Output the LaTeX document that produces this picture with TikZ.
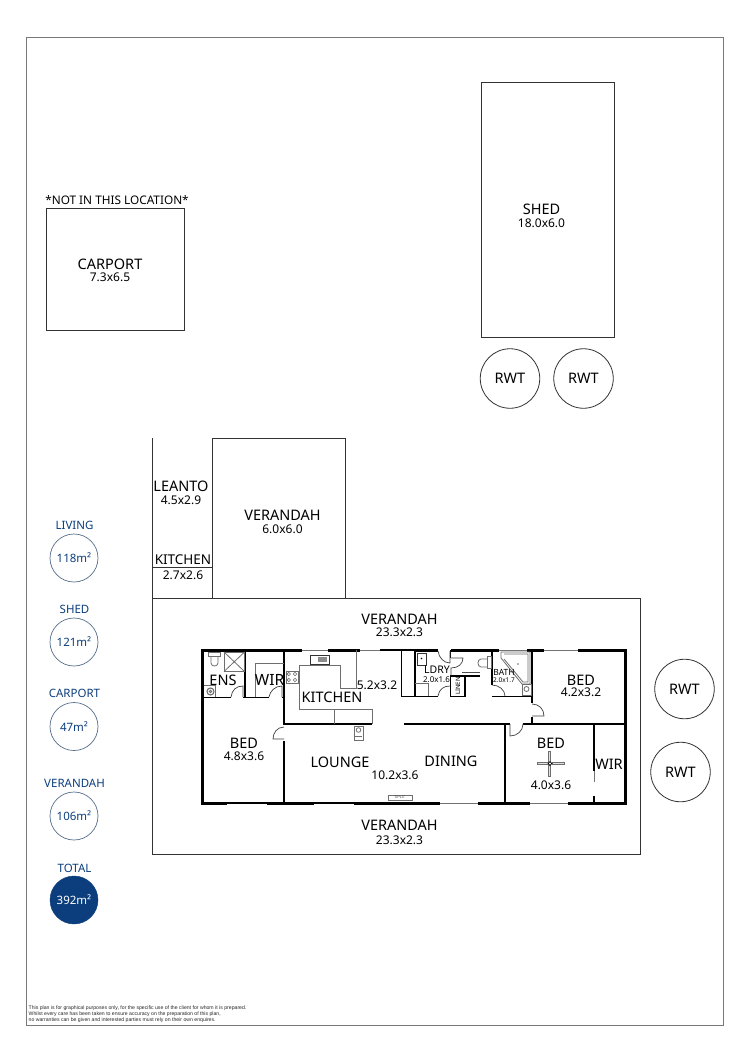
\documentclass[tikz,border=0pt]{standalone}
\usepackage{fontspec}
\setmainfont{Noto Sans}
\setsansfont{Liberation Sans}
\definecolor{navy}{RGB}{12,62,125}
\definecolor{ringc}{RGB}{85,110,140}
\definecolor{fix}{RGB}{110,110,110}
\definecolor{page}{RGB}{120,120,120}
\tikzset{
 x=1pt,y=-1pt,
 outline/.style={draw=black!80,line width=0.8pt},
 wall/.style={draw=black,line width=3pt},
 iwall/.style={draw=black,line width=1.5pt},
 win/.style={draw=black!55,line width=0.9pt},
 fixt/.style={draw=fix,line width=0.8pt},
 doorarc/.style={draw=black!75,line width=0.7pt},
 rname/.style={font=\fontsize{14.5}{15}\selectfont,inner sep=0pt},
 rsize/.style={font=\fontsize{12}{13}\selectfont,inner sep=0pt},
 smname/.style={font=\fontsize{10.5}{11}\selectfont,inner sep=0pt},
 smsize/.style={font=\fontsize{8}{8}\selectfont,inner sep=0pt},
 areatitle/.style={font=\fontsize{11.5}{12}\selectfont,text=navy,inner sep=0pt},
 areaval/.style={circle,draw=ringc,line width=0.7pt,minimum size=48pt,inner sep=0pt,font=\fontsize{11.5}{12}\selectfont,text=navy},
 areatot/.style={circle,fill=navy,draw=navy,minimum size=48pt,inner sep=0pt,font=\fontsize{11.5}{12}\selectfont,text=white},
 tankc/.style={circle,outline,minimum size=59.5pt,inner sep=0pt,font=\fontsize{14.5}{15}\selectfont}
}
\begin{document}
\begin{tikzpicture}
\useasboundingbox (0,0) rectangle (750,1061);
\fill[white] (0,0) rectangle (750,1061);
% page frame
\draw[draw=page,line width=1pt] (26,37) rectangle (723,1025);
% outbuildings
\draw[outline] (481,82) rectangle (614,337);
\draw[outline] (46,208) rectangle (184,330);
\draw[outline] (152,438) -- (152,598);
\draw[outline] (152,567) -- (212,567);
\draw[outline] (212,598) -- (212,438) -- (345,438) -- (345,598);
\draw[outline] (152,598) rectangle (640,854);
% tanks
\node[tankc] (t1) at (510,378.5) {RWT};
\node[tankc] (t2) at (583.5,378.5) {RWT};
\node[tankc] (t3) at (684.5,689) {RWT};
\node[tankc] (t4) at (680.5,772) {RWT};
% house outer walls
\draw[wall] (302,650) -- (202,650) -- (202,803) -- (227,803);
\draw[win] (302,650) -- (328,650);
\draw[wall] (328,650) -- (360,650);
\draw[win] (360,650) -- (380,650);
\draw[iwall] (380,650) -- (415,650);
\draw[iwall] (227,803) -- (267,803);
\draw[wall] (267,803) -- (314,803);
\draw[iwall] (314,803) -- (354,803);
\draw[wall] (354,803) -- (440,803);
\draw[win] (440,803) -- (478,803);
\draw[wall] (478,803) -- (530,803);
\draw[win] (530,803) -- (568,803);
\draw[wall] (568,803) -- (625,803) -- (625,650) -- (578,650);
\draw[win] (578,650) -- (544,650);
\draw[wall] (544,650) -- (527,650);
\draw[win] (527,650) -- (499,650);
\draw[wall] (499,650) -- (451,650);
\draw[wall] (438,650) -- (415,650);
% inner walls
\draw[iwall] (245,650) -- (245,697.5);
\draw[iwall] (202,697.5) -- (231,697.5);
\draw[iwall] (243,697.5) -- (269,697.5);
\draw[iwall] (282,697.5) -- (284,697.5);
\draw[iwall] (284,650) -- (284,724) -- (372,724);
\draw[iwall] (284,741) -- (284,803);
\draw[iwall] (404,724) -- (505,724) -- (505,803);
\draw[iwall] (510,724) -- (505,724);
\draw[iwall] (523,724) -- (625,724);
\draw[iwall] (532,650) -- (532,703);
\draw[iwall] (532,717) -- (532,724);
\draw[iwall] (594,724) -- (594,771);
\draw[win] (594,771) -- (594,782);
\draw[iwall] (594,796) -- (594,803);
\draw[iwall] (492,650) -- (492,685);
\draw[iwall] (492,696.5) -- (532,696.5);
\draw[iwall] (401.5,650) -- (401.5,696.5) -- (438,696.5);
\draw[iwall] (415,650) -- (415,696.5);
\draw[iwall] (450.5,650) -- (450.5,658);
\draw[iwall] (480,676) -- (450.5,676) -- (450.5,696.5) -- (465,696.5) -- (465,676);
\draw[draw=black!70,line width=1.4pt] (462,672.5) -- (480,672.5);
% doors
\draw[doorarc] (231,697) .. controls (232,690) and (236,686) .. (243,686) -- (243,697);
\draw[doorarc] (269,697) .. controls (270,691) and (275,686) .. (282,686) -- (282,697);
\draw[doorarc] (284,727) .. controls (277,727) and (273,733) .. (273,739) -- (284,739);
\draw[doorarc] (438,651) .. controls (439,658) and (444,663) .. (450,663) -- (450,651);
\draw[doorarc] (451,658) -- (463,658) .. controls (463,664) and (458,668) .. (451,668) -- (451,676);
\draw[doorarc] (438,696) .. controls (439,689) and (444,686) .. (450,686);
\draw[doorarc] (492,685) .. controls (499,685) and (505,690) .. (505,696);
\draw[doorarc] (532,704) .. controls (539,704) and (544,709) .. (544,716) -- (532,716);
\draw[doorarc] (510,724) -- (510,736) .. controls (517,736) and (523,731) .. (523,724);
% kitchen benches
\draw[fixt] (299,665) -- (340,665);
\draw[fixt] (299,665) -- (299,709.5) -- (372,709.5) -- (372,724);
\draw[fixt] (340,665) -- (340,688) -- (356,688) -- (356,650);
\draw[fixt] (334,709.5) -- (334,724);
\draw[fixt] (286,671) rectangle (298,683);
\foreach \px/\py in {288.8/674,295/674,288.8/680,295/680}{\draw[fixt,line width=0.6pt] (\px,\py) circle (1.7pt);}
\draw[draw=black!80,line width=1pt] (310,655) rectangle (329,664);
\fill[black!45] (318,657) rectangle (327,662);
\draw[fixt] (354,726) rectangle (363,740);
\draw[fixt] (358.5,730) circle (2.3pt);
\draw[fixt] (355,736) -- (362,736);
% wet areas
\draw[fixt] (208,652) rectangle (220,656);
\draw[fixt] (211,656) -- (211,663) .. controls (211,667) and (218,667) .. (218,663) -- (218,656);
\draw[fixt] (224,652) rectangle (244.5,671.5);
\draw[fixt] (224,652) -- (244.5,671.5) (244.5,652) -- (224,671.5);
\draw[fixt] (204,685) -- (215,685) -- (215,697);
\draw[fixt,line width=1.1pt] (210.5,691.5) circle (3.5pt);
\draw[fixt] (210.5,691.5) circle (1.2pt);
\draw[fixt] (255.5,697) -- (255.5,663.5) -- (284,663.5);
\draw[draw=black!80,line width=1pt] (417,653) rectangle (426,665);
\fill[black] (421.5,658.5) circle (0.8pt);
\draw[fixt] (415,683) -- (428,683) -- (428,696);
\draw[fixt] (487.5,656) rectangle (491.5,668);
\draw[fixt] (487.5,659) -- (481,659) .. controls (477,659) and (477,667) .. (481,667) -- (487.5,667);
\draw[fixt] (501,652) -- (530,652) -- (530,684) -- (522,684) -- (501,658) -- cycle;
\draw[fixt] (504,654) -- (528,654) -- (528,682) -- (523,682) -- (504,659);
\fill[fix] (518,664) circle (0.8pt);
\draw[fixt] (522,684) rectangle (531,695);
\draw[fixt] (526.5,689) circle (2.5pt);
% fan
\draw[fixt,fill=black!12] (548,751) rectangle (550,762);
\draw[fixt,fill=black!12] (548,765) rectangle (550,776);
\draw[fixt,fill=black!12] (537,762.5) rectangle (548,764.5);
\draw[fixt,fill=black!12] (552,762.5) rectangle (564,764.5);
\draw[fill=white,draw=black,line width=0.8pt] (550,763.5) circle (1.9pt);
% split box
\draw[fixt] (388.5,795) rectangle (412,800);
\node[font=\sffamily\fontsize{3.8}{4}\selectfont,text=black!70,inner sep=0pt] (split) at (400,797.5) {SPLIT};
% labels
\node[font=\fontsize{11.8}{12}\selectfont,inner sep=0pt] (note) at (117,200) {*NOT IN THIS LOCATION*};
\node[rname] (n1) at (110,264) {CARPORT};
\node[rsize] (n2) at (110,277) {7.3x6.5};
\node[rname] (n3) at (541.5,209.5) {SHED};
\node[rsize] (n4) at (541.5,223) {18.0x6.0};
\node[rname] (n5) at (181,486.5) {LEANTO};
\node[rsize] (n6) at (181,500) {4.5x2.9};
\node[rname] (n7) at (282.5,515.5) {VERANDAH};
\node[rsize] (n8) at (282.5,529.5) {6.0x6.0};
\node[font=\fontsize{13.5}{14}\selectfont,inner sep=0pt] (n9) at (183,560) {KITCHEN};
\node[rsize] (n10) at (183,575) {2.7x2.6};
\node[rname] (n11) at (399.5,619) {VERANDAH};
\node[rsize] (n12) at (399.5,632.5) {23.3x2.3};
\node[rname] (n13) at (399.5,825.5) {VERANDAH};
\node[rsize] (n14) at (399.5,840) {23.3x2.3};
\node[rname] (n15) at (223,680) {ENS};
\node[font=\fontsize{15.5}{16}\selectfont,inner sep=0pt] (n16) at (269.5,680) {WIR};
\node[rname] (n17) at (332,697) {KITCHEN};
\node[rsize] (n18) at (377,685) {5.2x3.2};
\node[smname] (n19) at (437,670) {LDRY};
\node[smsize] (n20) at (436.5,680) {2.0x1.6};
\node[font=\fontsize{8.5}{9}\selectfont,inner sep=0pt] (n21) at (504,672.5) {BATH};
\node[font=\fontsize{6.5}{7}\selectfont,inner sep=0pt] (n22) at (504,680.5) {2.0x1.7};
\node[font=\fontsize{6}{6}\selectfont,inner sep=0pt,rotate=90] (n23) at (458,686) {LINEN};
\node[rname] (n24) at (581,680) {BED};
\node[rsize] (n25) at (581,692) {4.2x3.2};
\node[rname] (n26) at (244,743) {BED};
\node[rsize] (n27) at (244,756) {4.8x3.6};
\node[rname] (n28) at (340,762) {LOUNGE};
\node[rsize] (n29) at (395,775) {10.2x3.6};
\node[rname] (n30) at (451,761) {DINING};
\node[rname] (n31) at (551,743) {BED};
\node[rsize] (n32) at (551,785) {4.0x3.6};
\node[rname] (n33) at (609,764) {WIR};
% area panel
\node[areatitle] (a1) at (74.5,525) {LIVING};
\node[areaval] (a1v) at (74,558) {118m²};
\node[areatitle] (a2) at (74.5,609) {SHED};
\node[areaval] (a2v) at (74,642) {121m²};
\node[areatitle] (a3) at (74.5,693.5) {CARPORT};
\node[areaval] (a3v) at (74,726.5) {47m²};
\node[areatitle] (a4) at (74.5,783) {VERANDAH};
\node[areaval] (a4v) at (74,816) {106m²};
\node[areatitle] (a5) at (74.5,868) {TOTAL};
\node[areatot] (a5v) at (74,900) {392m²};
% disclaimer
\node[font=\sffamily\fontsize{5.15}{6.1}\selectfont,align=left,anchor=north west,inner sep=0pt,text=black!85] (disc) at (28.5,1005.5) {This plan is for graphical purposes only, for the specific use of the client for whom it is prepared.\\Whilst every care has been taken to ensure accuracy on the preparation of this plan,\\no warranties can be given and interested parties must rely on their own enquires.};
\end{tikzpicture}
\end{document}
